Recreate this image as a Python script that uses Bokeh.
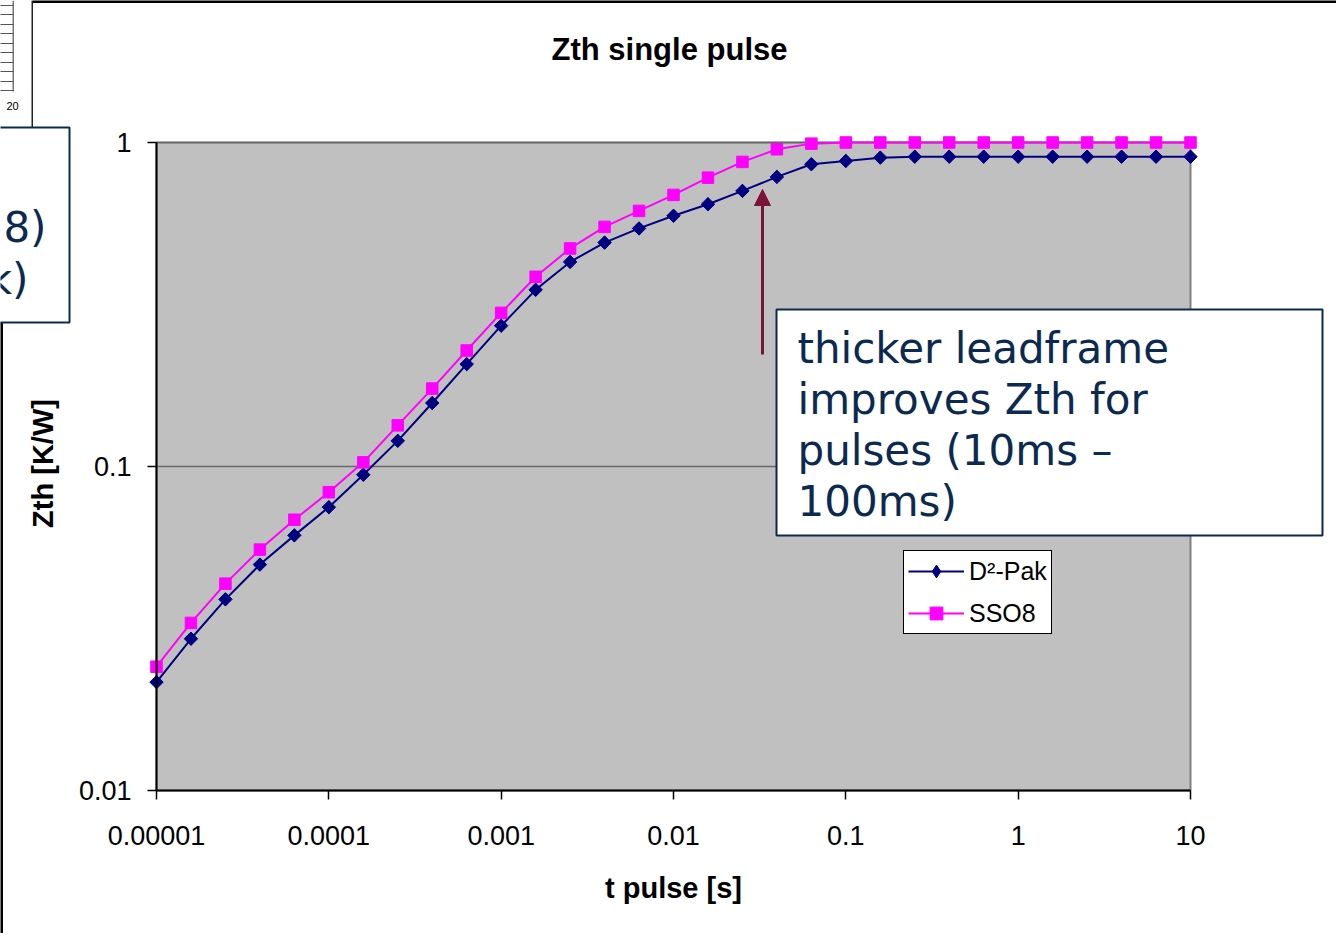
import math
from bokeh.plotting import figure
from bokeh.models import (Range1d, FixedTicker, BoxAnnotation, Label, Legend,
                          LegendItem, Arrow, NormalHead)
from bokeh.embed import file_html
from bokeh.resources import INLINE

# ---------------- data ----------------
t_pulse_s = [1e-05, 1.585e-05, 2.512e-05, 3.981e-05, 6.31e-05,
             0.0001, 0.0001585, 0.0002512, 0.0003981, 0.000631,
             0.001, 0.001585, 0.002512, 0.003981, 0.00631,
             0.01, 0.01585, 0.02512, 0.03981, 0.0631,
             0.1, 0.1585, 0.2512, 0.3981, 0.631,
             1.0, 1.585, 2.512, 3.981, 6.31, 10.0]
zth_d2pak = [0.0216, 0.0294, 0.0389, 0.0498, 0.0613,
             0.0749, 0.0943, 0.120, 0.157, 0.207,
             0.272, 0.351, 0.428, 0.491, 0.543,
             0.594, 0.645, 0.709, 0.783, 0.857,
             0.877, 0.898, 0.904, 0.904, 0.904,
             0.904, 0.904, 0.904, 0.904, 0.904, 0.904]
zth_sso8 = [0.0241, 0.0329, 0.0435, 0.0554, 0.0685,
            0.0833, 0.103, 0.134, 0.174, 0.228,
            0.298, 0.385, 0.471, 0.549, 0.615,
            0.689, 0.779, 0.871, 0.953, 0.992,
            1.0, 1.0, 1.0, 1.0, 1.0,
            1.0, 1.0, 1.0, 1.0, 1.0, 1.0]
series_names = ["D\u00b2-Pak", "SSO8"]
x_ticks = [1e-05, 0.0001, 0.001, 0.01, 0.1, 1, 10]
x_tick_labels = ["0.00001", "0.0001", "0.001", "0.01", "0.1", "1", "10"]
y_ticks = [0.01, 0.1, 1]
y_tick_labels = ["0.01", "0.1", "1"]
title_text = "Zth single pulse"
x_label = "t pulse [s]"
y_label = "Zth [K/W]"
note_lines = ["thicker leadframe", "improves Zth for", "pulses (10ms \u2013", "100ms)"]
frag_lines = ["8)", "k)"]

# ---------------- layout ----------------
W, H = 1336, 933
AX_L, AX_R, AX_T, AX_B = 156, 1190, 142, 790      # plot area in px
PX_DEC_X = (AX_R - AX_L) / 6.0
PX_DEC_Y = (AX_B - AX_T) / 2.0


def dx(px):
    return 10 ** (-5 + (px - AX_L) / PX_DEC_X)


def dy(py):
    return 10 ** (-(py - AX_T) / PX_DEC_Y)


p = figure(width=W, height=H, x_axis_type="log", y_axis_type="log",
           x_range=Range1d(dx(0), dx(W)), y_range=Range1d(dy(H), dy(0)),
           output_backend="svg", toolbar_location=None,
           min_border_left=0, min_border_right=0, min_border_top=0, min_border_bottom=0,
           background_fill_color="white", border_fill_color="white",
           outline_line_color=None)
p.xgrid.visible = False
p.ygrid.visible = False

FONT = "Liberation Sans"
NAVY_TXT = "#0C2A50"

# axes (fixed at the plot-area edges)
xa = p.xaxis[0]
xa.ticker = FixedTicker(ticks=x_ticks)
xa.major_label_overrides = dict(zip(x_ticks, x_tick_labels))
xa.bounds = (x_ticks[0], x_ticks[-1])
xa.fixed_location = y_ticks[0]
ya = p.yaxis[0]
ya.ticker = FixedTicker(ticks=y_ticks)
ya.major_label_overrides = dict(zip(y_ticks, y_tick_labels))
ya.bounds = (y_ticks[0], y_ticks[-1])
ya.fixed_location = x_ticks[0]
for ax in (xa, ya):
    ax.minor_tick_line_color = None
    ax.axis_line_color = "black"
    ax.axis_line_width = 2
    ax.major_tick_line_color = "black"
    ax.major_tick_line_width = 1.5
    ax.major_tick_in = 0
    ax.major_tick_out = 9
    ax.major_label_text_font = FONT
    ax.major_label_text_font_size = "27px"
    ax.major_label_text_color = "black"
xa.major_label_standoff = 26
ya.major_label_standoff = 16

# plot area background + border
p.add_layout(BoxAnnotation(left=x_ticks[0], right=x_ticks[-1], bottom=y_ticks[0], top=y_ticks[-1],
                           fill_color="#C0C0C0", fill_alpha=1.0, line_color="#808080",
                           line_alpha=1.0, line_width=2, level="image"))
# horizontal gridlines
p.segment(x0=[x_ticks[0]] * 2, x1=[x_ticks[-1]] * 2, y0=y_ticks[1:], y1=y_ticks[1:],
          line_color="#686868", line_width=1.5)

# series
r1l = p.line(t_pulse_s, zth_d2pak, line_color="#000080", line_width=2)
# diamond used for the legend sample (hidden under the rotated squares in the plot)
r1k = p.scatter(t_pulse_s, zth_d2pak, marker="diamond", size=12.5,
                fill_color="#000080", line_color="#000080")
r1m = p.scatter(t_pulse_s, zth_d2pak, marker="square", angle=math.pi / 4, size=9.5,
                fill_color="#000080", line_color="#000080")
r2l = p.line(t_pulse_s, zth_sso8, line_color="#FF00FF", line_width=2)
r2m = p.scatter(t_pulse_s, zth_sso8, marker="square", size=11.5,
                fill_color="#FF00FF", line_color="#FF00FF")

legend = Legend(items=[LegendItem(label=series_names[0], renderers=[r1l, r1k]),
                       LegendItem(label=series_names[1], renderers=[r2l, r2m])],
                location=(903, H - 634), orientation="vertical",
                border_line_color="black", border_line_width=1, border_line_alpha=1.0,
                background_fill_color="white", background_fill_alpha=1.0,
                padding=4, spacing=10, margin=0, glyph_width=56, glyph_height=32,
                label_height=32, label_standoff=5, label_text_font=FONT,
                label_text_font_size="25px", label_text_color="black")
p.add_layout(legend)

# arrow
ARROW_C = "#7B1238"
p.add_layout(Arrow(end=NormalHead(size=16, fill_color=ARROW_C, line_color=ARROW_C),
                   x_start=dx(762), y_start=dy(354), x_end=dx(762), y_end=dy(189),
                   line_color=ARROW_C, line_width=3))

# annotation box
p.add_layout(BoxAnnotation(left=dx(776), right=dx(1322), top=dy(309), bottom=dy(535),
                           fill_color="white", fill_alpha=1.0, line_color=NAVY_TXT,
                           line_alpha=1.0, line_width=2, level="overlay"))
for ln, base in zip(note_lines, [348, 399, 450, 501]):
    p.add_layout(Label(x=dx(797), y=dy(base), text=ln, text_font="DejaVu Sans",
                       text_font_size="42px", text_color=NAVY_TXT,
                       text_align="left", text_baseline="alphabetic", level="overlay"))

# titles
p.add_layout(Label(x=dx(669), y=dy(49), text=title_text, text_font=FONT, text_font_style="bold",
                   text_font_size="31px", text_color="black",
                   text_align="center", text_baseline="alphabetic"))
p.add_layout(Label(x=dx(673), y=dy(887), text=x_label, text_font=FONT, text_font_style="bold",
                   text_font_size="29px", text_color="black",
                   text_align="center", text_baseline="alphabetic"))
p.add_layout(Label(x=dx(42), y=dy(463), text=y_label, text_font=FONT, text_font_style="bold",
                   text_font_size="29px", text_color="black",
                   text_align="center", text_baseline="alphabetic", angle=math.pi / 2))

# ---------------- fragments of neighbouring slide content ----------------
p.add_layout(BoxAnnotation(left=dx(32), right=dx(1340), top=dy(-1), bottom=dy(2.5),
                           fill_color="black", fill_alpha=1.0, line_color=None))
p.add_layout(BoxAnnotation(left=dx(31), right=dx(32.5), top=dy(0), bottom=dy(127),
                           fill_color="#222222", fill_alpha=1.0, line_color=None))
p.add_layout(BoxAnnotation(left=dx(-2), right=dx(2.5), top=dy(322), bottom=dy(940),
                           fill_color="black", fill_alpha=1.0, line_color=None))
p.add_layout(BoxAnnotation(left=dx(-10), right=dx(69), top=dy(127), bottom=dy(322),
                           fill_color="white", fill_alpha=1.0, line_color=NAVY_TXT,
                           line_alpha=1.0, line_width=2))
for ln, xr, base in zip(frag_lines, [46, 28], [227, 279]):
    p.add_layout(Label(x=dx(xr), y=dy(base), text=ln, text_font="DejaVu Sans",
                       text_font_size="42px", text_color=NAVY_TXT,
                       text_align="right", text_baseline="alphabetic"))
p.add_layout(BoxAnnotation(left=dx(12), right=dx(13.5), top=dy(0), bottom=dy(91),
                           fill_color="#777777", fill_alpha=1.0, line_color=None))
for yy in [5, 14, 24, 33, 43, 52, 62, 71, 81, 90]:
    p.add_layout(BoxAnnotation(left=dx(-2), right=dx(13), top=dy(yy - 0.6), bottom=dy(yy + 0.6),
                               fill_color="#555555", fill_alpha=1.0, line_color=None))
p.add_layout(Label(x=dx(12), y=dy(105), text="20", text_font=FONT, text_font_size="11px",
                   text_color="black", text_align="center", text_baseline="alphabetic"))

open("out.html", "w").write(file_html(p, INLINE))
